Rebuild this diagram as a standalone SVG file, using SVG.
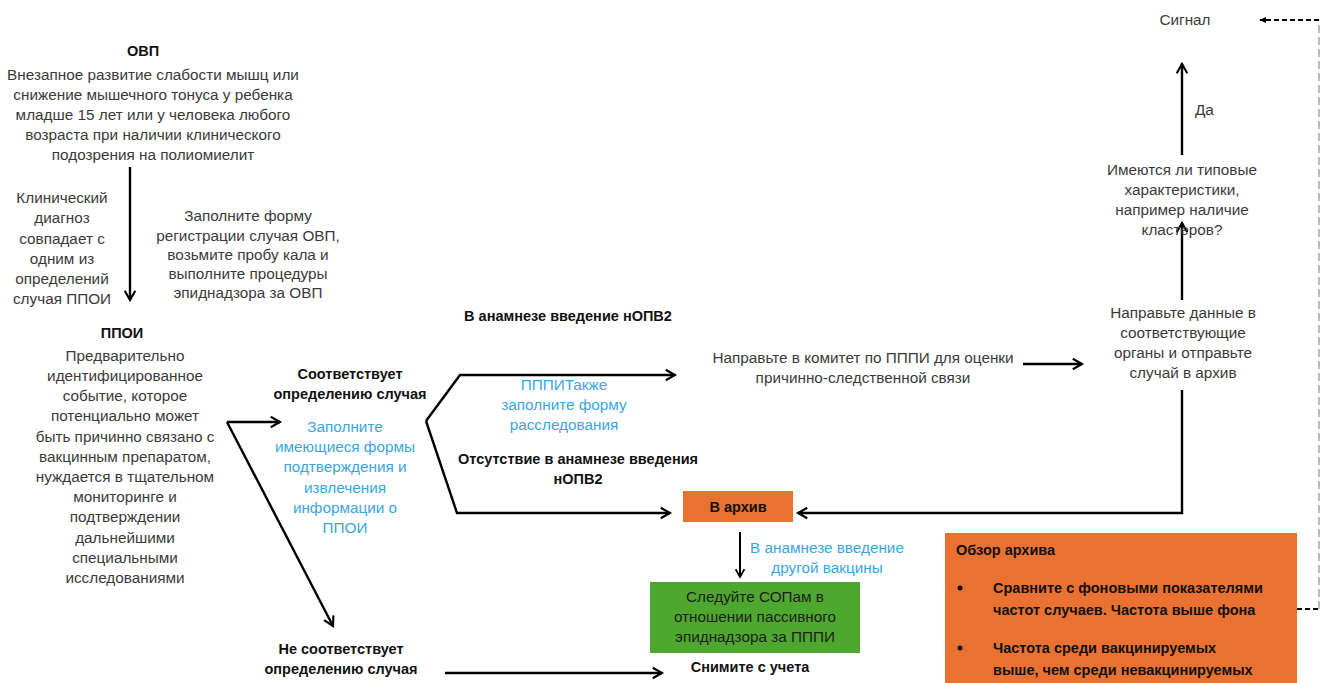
<svg xmlns="http://www.w3.org/2000/svg" width="1321" height="683" viewBox="0 0 1321 683">
<defs>
<marker id="ah" viewBox="0 0 10 10" refX="8" refY="5" markerWidth="5.5" markerHeight="5.5" markerUnits="strokeWidth" orient="auto">
<path d="M1,1 L8,5 L1,9" fill="none" stroke="#000" stroke-width="1.6"/>
</marker>
<marker id="ahf" viewBox="0 0 10 10" refX="8" refY="5" markerWidth="4" markerHeight="4" markerUnits="strokeWidth" orient="auto">
<path d="M0,1 L9,5 L0,9 Z" fill="#000"/>
</marker>
<style>
text{font-family:"Liberation Sans",Arial,sans-serif;font-size:15.3px;fill:#3a3a3a;text-anchor:middle}
.b{font-weight:bold;fill:#111;font-size:14.5px}
.bl{fill:#3aa6df}
.l{text-anchor:start}
.c{fill:none;stroke:#000;stroke-width:2.4;marker-end:url(#ah)}
</style>
</defs>
<g id="connectors">
<line class="c" x1="130" y1="167" x2="130" y2="300"/>
<line class="c" x1="227" y1="422" x2="280" y2="422"/>
<line class="c" x1="227" y1="422" x2="333" y2="626"/>
<polyline class="c" points="426,421 460,375 675,375"/>
<polyline class="c" points="426,421 457,513 670,513"/>
<line class="c" x1="445" y1="673" x2="662" y2="673"/>
<line class="c" x1="1023" y1="364" x2="1082" y2="364"/>
<polyline class="c" points="1182,390 1182,513 798,513"/>
<line class="c" x1="1182" y1="300" x2="1182" y2="223"/>
<line class="c" x1="1182" y1="155" x2="1182" y2="64"/>
<line class="c" x1="740" y1="532" x2="740" y2="577" style="stroke-width:2"/>
<line x1="1297" y1="609" x2="1319" y2="609" stroke="#000" stroke-width="2" stroke-dasharray="5,3"/>
<line x1="1319" y1="609" x2="1319" y2="20" stroke="#777" stroke-width="1" stroke-dasharray="8,4"/>
<line x1="1319" y1="20" x2="1260" y2="20" stroke="#000" stroke-width="2" stroke-dasharray="5,3" marker-end="url(#ahf)"/>
</g>
<g id="ovp">
<text class="b" x="143" y="56">ОВП</text>
<text x="153" y="80">Внезапное развитие слабости мышц или</text>
<text x="153" y="100">снижение мышечного тонуса у ребенка</text>
<text x="153" y="120">младше 15 лет или у человека любого</text>
<text x="153" y="140">возраста при наличии клинического</text>
<text x="153" y="160">подозрения на полиомиелит</text>
</g>
<g id="clin">
<text x="62" y="203">Клинический</text>
<text x="62" y="223">диагноз</text>
<text x="62" y="244">совпадает с</text>
<text x="62" y="264">одним из</text>
<text x="62" y="284">определений</text>
<text x="62" y="304">случая ППОИ</text>
</g>
<g id="form-ovp">
<text x="248" y="221">Заполните форму</text>
<text x="248" y="241">регистрации случая ОВП,</text>
<text x="248" y="260">возьмите пробу кала и</text>
<text x="248" y="279">выполните процедуры</text>
<text x="248" y="298">эпиднадзора за ОВП</text>
</g>
<g id="ppoi">
<text class="b" x="122" y="338">ППОИ</text>
<text x="125" y="361">Предварительно</text>
<text x="125" y="381">идентифицированное</text>
<text x="125" y="401">событие, которое</text>
<text x="125" y="421">потенциально может</text>
<text x="125" y="442">быть причинно связано с</text>
<text x="125" y="462">вакцинным препаратом,</text>
<text x="125" y="482">нуждается в тщательном</text>
<text x="125" y="502">мониторинге и</text>
<text x="125" y="522">подтверждении</text>
<text x="125" y="543">дальнейшими</text>
<text x="125" y="563">специальными</text>
<text x="125" y="583">исследованиями</text>
</g>
<g id="match">
<text class="b" x="350" y="379">Соответствует</text>
<text class="b" x="350" y="399">определению случая</text>
<text class="bl" x="345" y="432">Заполните</text>
<text class="bl" x="345" y="452">имеющиеся формы</text>
<text class="bl" x="345" y="472">подтверждения и</text>
<text class="bl" x="345" y="493">извлечения</text>
<text class="bl" x="345" y="513">информации о</text>
<text class="bl" x="345" y="533">ППОИ</text>
</g>
<g id="nomatch">
<text class="b" x="341" y="654">Не соответствует</text>
<text class="b" x="341" y="674">определению случая</text>
</g>
<g id="nopv2-yes">
<text class="b" x="568" y="321">В анамнезе введение нОПВ2</text>
<text class="bl" x="564" y="390">ПППИТакже</text>
<text class="bl" x="564" y="410">заполните форму</text>
<text class="bl" x="564" y="430">расследования</text>
</g>
<g id="nopv2-no">
<text class="b" x="578" y="464">Отсутствие в анамнезе введения</text>
<text class="b" x="578" y="484">нОПВ2</text>
</g>
<g id="committee">
<text x="863" y="363">Направьте в комитет по ПППИ для оценки</text>
<text x="863" y="383">причинно-следственной связи</text>
</g>
<g id="send-data">
<text x="1183" y="318">Направьте данные в</text>
<text x="1183" y="338">соответствующие</text>
<text x="1183" y="358">органы и отправьте</text>
<text x="1183" y="378">случай в архив</text>
</g>
<g id="question">
<text x="1182" y="175">Имеются ли типовые</text>
<text x="1182" y="195">характеристики,</text>
<text x="1182" y="215">например наличие</text>
<text x="1182" y="235">кластеров?</text>
</g>
<g id="yes"><text class="l" x="1195" y="115">Да</text></g>
<g id="signal"><text x="1185" y="25">Сигнал</text></g>
<g id="archive">
<rect x="683" y="491" width="110" height="31" fill="#e97132"/>
<text class="b" x="738" y="512">В архив</text>
</g>
<g id="other-vaccine">
<text class="bl" x="827" y="553">В анамнезе введение</text>
<text class="bl" x="827" y="573">другой вакцины</text>
</g>
<g id="sop">
<rect x="650" y="582" width="210" height="71" fill="#4ea72e"/>
<text x="755" y="602" style="fill:#1e1e1e">Следуйте СОПам в</text>
<text x="755" y="622" style="fill:#1e1e1e">отношении пассивного</text>
<text x="755" y="642" style="fill:#1e1e1e">эпиднадзора за ПППИ</text>
</g>
<g id="remove"><text class="b" x="750" y="672">Снимите с учета</text></g>
<g id="review">
<rect x="945" y="533" width="352" height="160" fill="#e97132"/>
<text class="b l" x="956" y="555">Обзор архива</text>
<circle cx="960" cy="588" r="2.5" fill="#111"/>
<text class="b l" x="993" y="593">Сравните с фоновыми показателями</text>
<text class="b l" x="993" y="615">частот случаев. Частота выше фона</text>
<circle cx="960" cy="648" r="2.5" fill="#111"/>
<text class="b l" x="993" y="653">Частота среди вакцинируемых</text>
<text class="b l" x="993" y="675">выше, чем среди невакцинируемых</text>
</g>
</svg>
